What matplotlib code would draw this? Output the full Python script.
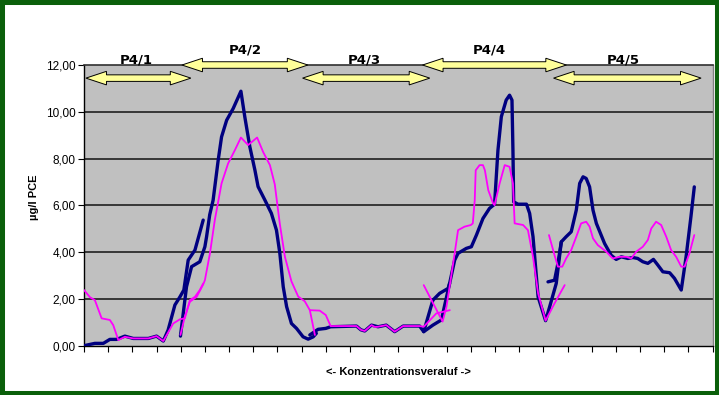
import matplotlib
matplotlib.use("Agg")
import matplotlib.pyplot as plt
from matplotlib.patches import Polygon, Rectangle

# --- data (x = position along the 26 category slots) ---
navy_a_x = [0, 0.45, 0.8, 1.07, 1.35, 1.69, 2.04, 2.66, 3.0, 3.28, 3.48, 3.76, 3.97, 4.13, 4.31, 4.59, 4.93]
navy_a_y = [0, 0.1, 0.1, 0.27, 0.27, 0.41, 0.31, 0.31, 0.41, 0.2, 0.67, 1.74, 2.09, 2.38, 3.66, 4.09, 5.37]

navy_b_x = [3.99, 4.24, 4.45, 4.79, 5.0, 5.07, 5.2, 5.34, 5.55, 5.69, 5.9, 6.17, 6.49, 6.65, 6.86, 7.07,
            7.2, 7.48, 7.75, 7.96, 8.1, 8.24, 8.38, 8.58, 8.79, 9.06, 9.27, 9.48, 9.61]
navy_b_y = [0.41, 2.52, 3.38, 3.59, 4.23, 4.66, 5.6, 6.22, 7.93, 8.93, 9.64, 10.14, 10.88, 9.79, 8.5, 7.5,
            6.8, 6.23, 5.66, 4.94, 3.95, 2.52, 1.67, 0.95, 0.74, 0.38, 0.28, 0.38, 0.53]

navy_c_x = [9.34, 9.68, 10.0, 10.2, 11.27, 11.45, 11.61, 11.89, 12.16, 12.5, 12.85, 13.2, 13.88, 14.05,
            14.43, 14.71, 15.06, 15.12, 15.33, 15.47, 15.81, 16.02, 16.23, 16.5, 16.77, 16.98, 17.12,
            17.26, 17.46, 17.6, 17.7, 17.74, 17.77, 17.95, 18.3, 18.43, 18.57, 18.78, 19.09, 19.26,
            19.53, 19.74, 19.94, 20.15, 20.36, 20.5, 20.64, 20.77, 20.91, 21.05, 21.19, 21.53, 21.8,
            22.01, 22.22, 22.49, 22.7, 22.9, 23.11, 23.32, 23.55, 23.73, 23.94, 24.22, 24.42, 24.7,
            24.9, 25.1, 25.24]
navy_c_y = [0.46, 0.7, 0.74, 0.81, 0.84, 0.68, 0.63, 0.88, 0.81, 0.88, 0.6, 0.84, 0.84, 0.6,
            1.95, 2.24, 2.45, 2.66, 3.66, 3.95, 4.16, 4.23, 4.73, 5.44, 5.87, 6.05, 8.36,
            9.79, 10.5, 10.71, 10.5, 8.36, 6.15, 6.05, 6.05, 5.66, 4.66, 2.09, 1.07, 1.67,
            2.66, 4.44, 4.66, 4.87, 5.8, 6.94, 7.22, 7.15, 6.79, 5.8, 5.23, 4.37, 3.87,
            3.69, 3.8, 3.73, 3.77, 3.73, 3.59, 3.52, 3.69, 3.45, 3.16, 3.12, 2.88, 2.38,
            3.8, 5.51, 6.79]

navy_d_x = [19.19, 19.46, 19.6, 19.74]
navy_d_y = [2.73, 2.8, 3.52, 4.44]

navy_e_x = [14.05, 14.43, 14.78, 15.12]
navy_e_y = [0.6, 0.88, 1.1, 2.66]

pink_a_x = [0, 0.25, 0.45, 0.73, 1.07, 1.21, 1.42, 1.69, 2.04, 2.66, 3.0, 3.28, 3.69, 3.97, 4.17,
            4.38, 4.59, 4.79, 4.93]
pink_a_y = [2.38, 2.07, 1.95, 1.17, 1.1, 0.88, 0.24, 0.38, 0.31, 0.31, 0.41, 0.2, 0.95, 1.13, 1.17,
            1.95, 2.09, 2.38, 2.66]

pink_b_x = [3.99, 4.17, 4.38, 4.66, 4.93, 5.0, 5.21, 5.41, 5.69, 5.96, 6.24, 6.49, 6.79, 7.16, 7.41,
            7.69, 7.89, 8.1, 8.31, 8.58, 8.86, 9.13, 9.34, 9.55]
pink_b_y = [0.46, 1.24, 1.88, 2.09, 2.62, 2.8, 3.95, 5.37, 6.94, 7.79, 8.36, 8.9, 8.58, 8.9, 8.28,
            7.72, 6.9, 5.2, 3.8, 2.75, 2.1, 1.9, 1.52, 0.46]

pink_c_x = [9.34, 9.75, 10.0, 10.2, 11.27, 11.45, 11.61, 11.89, 12.03, 12.16, 12.5, 12.85, 13.2, 13.88,
            14.05, 14.57, 15.13]
pink_c_y = [1.52, 1.5, 1.31, 0.84, 0.84, 0.68, 0.63, 0.88, 0.8, 0.81, 0.88, 0.6, 0.84, 0.84,
            0.81, 1.38, 1.52]

pink_d_x = [14.05, 14.51, 14.83, 14.99, 15.12, 15.33, 15.47, 15.74, 16.0, 16.08, 16.16, 16.2, 16.36,
            16.5, 16.58, 16.72, 16.92, 16.98, 17.19, 17.4, 17.6, 17.74, 17.81, 18.16, 18.36, 18.57,
            18.78, 19.09, 19.46, 19.88]
pink_d_y = [2.59, 1.67, 1.03, 1.67, 2.52, 3.95, 4.94, 5.09, 5.16, 5.23, 6.22, 7.5, 7.72,
            7.72, 7.5, 6.65, 6.08, 6.01, 6.94, 7.72, 7.65, 6.94, 5.23, 5.16, 4.94, 3.8,
            2.24, 1.07, 1.81, 2.59]

pink_e_x = [19.23, 19.46, 19.6, 19.78, 19.94, 20.15, 20.36, 20.56, 20.77, 20.91, 21.05, 21.25, 21.6,
            21.87, 22.15, 22.43, 22.63, 22.84, 23.11, 23.32, 23.46, 23.66, 23.87, 24.08, 24.28, 24.49,
            24.7, 24.84, 25.04, 25.24]
pink_e_y = [4.73, 3.87, 3.38, 3.38, 3.73, 4.09, 4.66, 5.23, 5.3, 5.09, 4.59, 4.3, 4.02,
            3.73, 3.8, 3.8, 3.73, 4.02, 4.23, 4.52, 5.01, 5.3, 5.16, 4.66, 4.09, 3.8,
            3.38, 3.38, 3.95, 4.73]

section_names = ["P4/1", "P4/2", "P4/3", "P4/4", "P4/5"]
section_start = [0.08, 4.05, 9.04, 14.0, 19.42]
section_end = [4.42, 9.26, 14.3, 19.95, 25.52]
section_label_x = [2.15, 6.69, 11.6, 16.78, 22.31]

y_ticks = [0, 2, 4, 6, 8, 10, 12]
y_tick_labels = ["0,00", "2,00", "4,00", "6,00", "8,00", "10,00", "12,00"]
n_categories = 26

navy = "#000080"
pink = "#FF00FF"

plt.rcParams["font.family"] = ["Liberation Sans Narrow", "Liberation Sans", "DejaVu Sans"]

fig = plt.figure(figsize=(7.19, 3.95), dpi=100, facecolor="white")
fig.patches.append(Rectangle((0, 0), 1, 1, transform=fig.transFigure, fill=False,
                             edgecolor="#0A5F0A", linewidth=6.5, zorder=10))
ax = fig.add_axes([0.1168, 0.1248, 0.8744, 0.7106])
ax.set_facecolor("#C0C0C0")

for v in y_ticks[1:-1]:
    ax.axhline(v, color="#202020", linewidth=1.2, zorder=1)

segs_navy = [(navy_a_x, navy_a_y), (navy_b_x, navy_b_y), (navy_c_x, navy_c_y),
             (navy_d_x, navy_d_y), (navy_e_x, navy_e_y)]
segs_pink = [(pink_a_x, pink_a_y), (pink_b_x, pink_b_y), (pink_c_x, pink_c_y),
             (pink_d_x, pink_d_y), (pink_e_x, pink_e_y)]
for xs, ys in segs_navy:
    ax.plot(xs, ys, color=navy, linewidth=2.4, solid_joinstyle="round", solid_capstyle="round", zorder=3)
for xs, ys in segs_pink:
    ax.plot(xs, ys, color=pink, linewidth=1.3, solid_joinstyle="round", solid_capstyle="round", zorder=4)

ax.set_xlim(0, n_categories)
ax.set_ylim(0, 12)
ax.set_xticks(range(n_categories + 1))
ax.set_xticklabels([])
ax.set_yticks(y_ticks)
ax.set_yticklabels(y_tick_labels, fontsize=8.5)
ax.tick_params(axis="both", direction="out", length=4, width=0.8, color="black", pad=2)

for s in ["left", "bottom"]:
    ax.spines[s].set_color("black")
    ax.spines[s].set_linewidth(1)
ax.spines["top"].set_color("#303030")
ax.spines["top"].set_linewidth(1.2)
ax.spines["right"].set_color("#808080")
ax.spines["right"].set_linewidth(1)

ax.set_ylabel("µg/l PCE", fontsize=8, fontweight="bold")
ax.yaxis.set_label_coords(-0.072, 0.53)
ax.set_xlabel("<- Konzentrationsveraluf ->", fontsize=8, fontweight="bold")
ax.xaxis.set_label_coords(0.5, -0.076)


# yellow double arrows for the sections
def double_arrow(x0, x1, yc, hl=0.85, hh=0.29, sh=0.14):
    pts = [(x0, yc), (x0 + hl, yc + hh), (x0 + hl, yc + sh), (x1 - hl, yc + sh), (x1 - hl, yc + hh),
           (x1, yc), (x1 - hl, yc - hh), (x1 - hl, yc - sh), (x0 + hl, yc - sh), (x0 + hl, yc - hh)]
    ax.add_patch(Polygon(pts, closed=True, facecolor="#FFFF99", edgecolor="black",
                         linewidth=0.7, clip_on=False, zorder=6))


for i, name in enumerate(section_names):
    upper = i % 2 == 1
    yc = 12.0 if upper else 11.44
    ly = 12.64 if upper else 12.2
    double_arrow(section_start[i], section_end[i], yc)
    ax.text(section_label_x[i], ly, name, ha="center", va="center", fontsize=9.5,
            fontweight="bold", family=["DejaVu Sans"], zorder=7, clip_on=False)

fig.savefig("out.png", dpi=100, facecolor="white")
